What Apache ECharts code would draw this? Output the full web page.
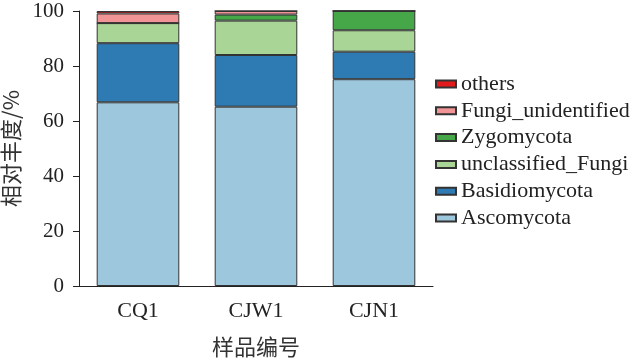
<!DOCTYPE html>
<html><head><meta charset="utf-8">
<script src="https://cdn.jsdelivr.net/npm/echarts@6/dist/echarts.min.js"></script>
<style>html,body{margin:0;padding:0;background:#fff}#c{width:631px;height:359px}</style>
</head><body><div id="c"></div>
<script>
const categories = ['CQ1', 'CJW1', 'CJN1'];
const seriesNames = ['Ascomycota', 'Basidiomycota', 'unclassified_Fungi', 'Zygomycota', 'Fungi_unidentified', 'others'];
const ascomycota = [66.8, 65.2, 75.2];
const basidiomycota = [21.5, 18.8, 10.0];
const unclassifiedFungi = [7.3, 12.5, 7.8];
const zygomycota = [0, 2.2, 7.0];
const fungiUnidentified = [3.5, 1.3, 0];
const others = [0.9, 0, 0];
const colors = ['#9dc7dc', '#2e7bb4', '#a9d596', '#46a748', '#f19495', '#e31a1c'];
const values = [ascomycota, basidiomycota, unclassifiedFungi, zygomycota, fungiUnidentified, others];

const font = 'Liberation Serif, Times New Roman, serif';
const cjk = '"Noto Sans CJK SC", sans-serif';
const chart = echarts.init(document.getElementById('c'));
chart.setOption({
  animation: false,
  grid: {left: 79, right: 198, top: 11, bottom: 73, containLabel: false, outerBoundsMode: 'none'},
  legend: {
    data: seriesNames.slice().reverse(),
    orient: 'vertical', left: 435, top: 73, padding: 0,
    itemWidth: 20, itemHeight: 7, itemGap: 4.8,
    textStyle: {fontFamily: font, fontSize: 22, lineHeight: 21, color: '#222'},
    icon: 'rect'
  },
  xAxis: {
    type: 'category', data: categories,
    axisLine: {lineStyle: {color: '#222', width: 1}},
    axisTick: {alignWithLabel: true, length: 5, lineStyle: {color: '#222'}},
    axisLabel: {fontFamily: font, fontSize: 22, color: '#222', margin: 14},
    name: '样品编号', nameLocation: 'middle', nameGap: 50,
    nameTextStyle: {fontFamily: cjk, fontSize: 22, color: '#333'}
  },
  yAxis: {
    type: 'value', min: 0, max: 100, interval: 20,
    axisLine: {show: true, lineStyle: {color: '#222', width: 1}},
    axisTick: {show: true, length: 6, lineStyle: {color: '#222'}},
    splitLine: {show: false},
    axisLabel: {fontFamily: font, fontSize: 21, color: '#222', margin: 15},
    name: '相对丰度/%', nameLocation: 'middle', nameGap: 56, nameRotate: 90,
    nameTextStyle: {fontFamily: cjk, fontSize: 22, color: '#333'}
  },
  series: seriesNames.map((n, i) => ({
    name: n, type: 'bar', stack: 'a', data: values[i],
    barCategoryGap: '30%',
    itemStyle: {color: colors[i], borderColor: '#333', borderWidth: 1}
  }))
});
</script></body></html>
